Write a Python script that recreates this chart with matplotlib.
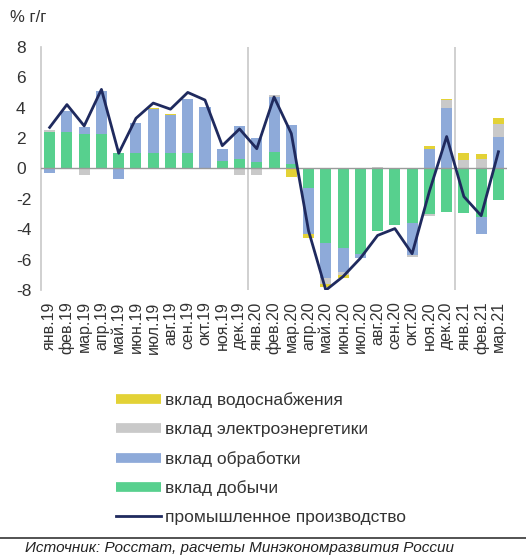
import numpy as np
import matplotlib
matplotlib.use("Agg")
import matplotlib.pyplot as plt
from matplotlib.lines import Line2D

plt.rcParams['font.family'] = ['Liberation Sans', 'DejaVu Sans']
plt.rcParams['axes.unicode_minus'] = False

months = ["янв.19", "фев.19", "мар.19", "апр.19", "май.19", "июн.19", "июл.19",
          "авг.19", "сен.19", "окт.19", "ноя.19", "дек.19", "янв.20", "фев.20",
          "мар.20", "апр.20", "май.20", "июн.20", "июл.20", "авг.20", "сен.20",
          "окт.20", "ноя.20", "дек.20", "янв.21", "фев.21", "мар.21"]

mining = [2.4, 2.4, 2.3, 2.3, 1.0, 1.0, 1.0, 1.0, 1.0, 0.0, 0.5, 0.6, 0.4, 1.1,
          0.3, -1.3, -4.9, -5.2, -5.6, -4.1, -3.7, -3.6, -3.0, -2.85, -2.9, -3.2, -2.1]
manufacturing = [-0.3, 1.4, 0.4, 2.8, -0.7, 2.0, 2.9, 2.5, 3.6, 4.05, 0.8, 2.2, 1.6, 3.6,
                 2.55, -3.0, -2.3, -1.6, -0.3, 0.0, 0.0, -2.1, 1.3, 3.95, 0.0, -1.1, 2.1]
electricity = [0.1, 0.0, -0.4, 0.0, 0.0, 0.0, 0.0, 0.0, 0.0, 0.0, 0.0, -0.4, -0.45, 0.1,
               0.0, 0.0, -0.4, -0.2, 0.0, 0.1, 0.0, -0.1, -0.1, 0.55, 0.55, 0.65, 0.85]
water = [0.05, 0.0, 0.0, 0.0, 0.0, 0.0, 0.1, 0.1, 0.0, 0.0, 0.0, 0.0, 0.0, 0.0,
         -0.55, -0.3, -0.2, -0.2, 0.0, 0.0, 0.0, 0.0, 0.15, 0.1, 0.45, 0.3, 0.35]
industry = [2.7, 4.2, 2.8, 5.2, 1.0, 3.3, 4.3, 3.9, 5.0, 4.5, 1.5, 2.6, 1.3, 4.7,
            2.3, -4.1, -8.0, -7.1, -5.9, -4.4, -3.95, -5.6, -1.5, 2.1, -1.85, -3.1, 1.1]

series = [
    (mining, "#57d08e", "вклад добычи"),
    (manufacturing, "#8eaad9", "вклад обработки"),
    (electricity, "#c9c9c9", "вклад электроэнергетики"),
    (water, "#e3d236", "вклад водоснабжения"),
]

fig = plt.figure(figsize=(5.26, 5.57), dpi=100)
ax = fig.add_axes([0.078, 0.479, 0.886, 0.437])

x = np.arange(len(months))
pos_bottom = np.zeros(len(months))
neg_bottom = np.zeros(len(months))
for vals, color, label in series:
    v = np.array(vals, dtype=float)
    b = np.where(v >= 0, pos_bottom, neg_bottom)
    ax.bar(x, v, bottom=b, width=0.64, color=color, linewidth=0, zorder=2)
    pos_bottom = pos_bottom + np.where(v > 0, v, 0)
    neg_bottom = neg_bottom + np.where(v < 0, v, 0)

ax.plot(x, industry, color="#1f2a5e", lw=2.0, zorder=4)

ax.axhline(0, color="#9a9a9a", lw=1.0, zorder=3)
for xv in [11.5, 23.5]:
    ax.axvline(xv, color="#c8c8c8", lw=1.2, zorder=1)

ax.set_xlim(-0.5, len(months) - 0.5)
ax.set_ylim(-8, 8)
ax.set_yticks(np.arange(-8, 9, 2))
ax.set_xticks(x)
ax.set_xticklabels(months, rotation=90, fontsize=11.5, color="#333333")
ax.tick_params(axis='both', length=0)
ax.tick_params(axis='x', pad=8)
ax.tick_params(axis='y', pad=18, labelsize=12.5, labelcolor="#333333")
for lbl in ax.get_yticklabels():
    lbl.set_horizontalalignment('left')
for s in ['top', 'right', 'bottom']:
    ax.spines[s].set_visible(False)
ax.spines['left'].set_color("#c8c8c8")
ax.spines['left'].set_linewidth(1.2)

fig.text(10 / 526, 1 - 17 / 557, "% г/г", fontsize=12, color="#333333", va='center')

handles = [
    Line2D([0], [0], color="#e3d236", lw=7, solid_capstyle='butt'),
    Line2D([0], [0], color="#c9c9c9", lw=7, solid_capstyle='butt'),
    Line2D([0], [0], color="#8eaad9", lw=7, solid_capstyle='butt'),
    Line2D([0], [0], color="#57d08e", lw=7, solid_capstyle='butt'),
    Line2D([0], [0], color="#1f2a5e", lw=2),
]
labels = ["вклад водоснабжения", "вклад электроэнергетики", "вклад обработки",
          "вклад добычи", "промышленное производство"]
leg = fig.legend(handles, labels, loc='upper left',
                 bbox_to_anchor=(116 / 526, 1 - 392 / 557),
                 frameon=False, fontsize=12.5, handlelength=2.6,
                 handletextpad=0.25, labelspacing=0.8, borderpad=0,
                 borderaxespad=0)
for t in leg.get_texts():
    t.set_color("#333333")

fig.add_artist(Line2D([0.0, 1.0], [1 - 538 / 557] * 2, color="#444444", lw=1.3,
                      transform=fig.transFigure))
fig.text(25 / 526, 1 - 548 / 557, "Источник: Росстат, расчеты Минэкономразвития России",
         fontsize=11, style='italic', color="#222222", va='center')

fig.savefig("out.png", dpi=100)
